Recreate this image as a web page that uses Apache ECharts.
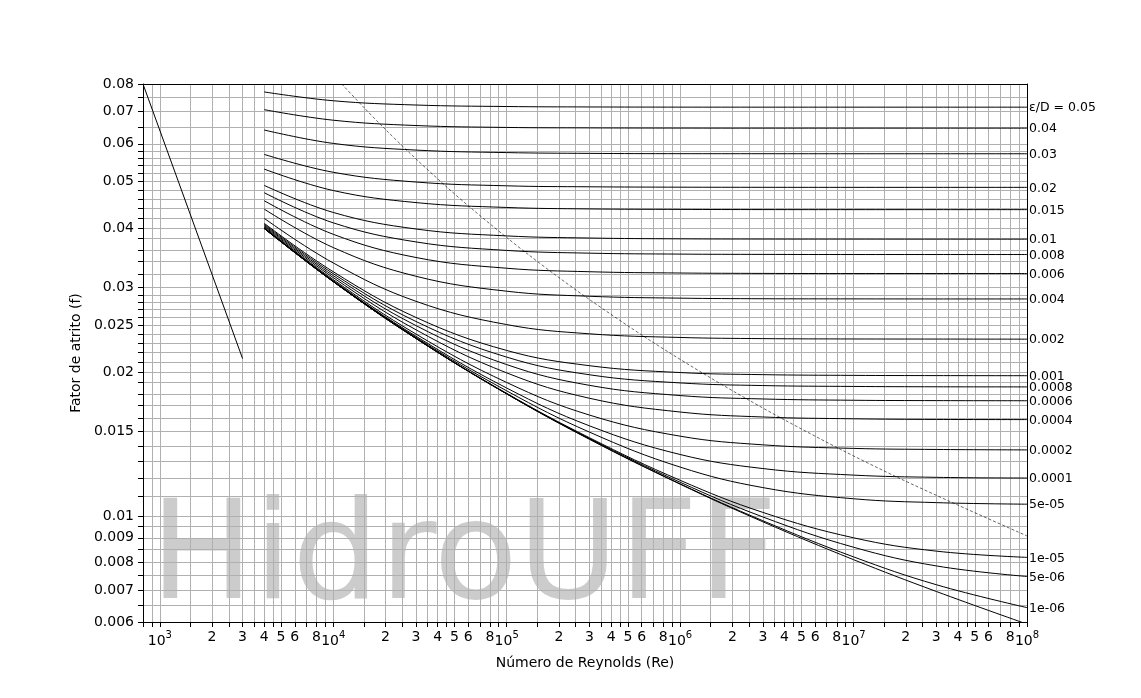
<!DOCTYPE html>
<html>
<head>
<meta charset="utf-8">
<script src="https://cdn.jsdelivr.net/npm/echarts@6/dist/echarts.min.js"></script>
<style>
html,body{margin:0;padding:0;background:#fff;}
#chart{width:1141px;height:698px;}
</style>
</head>
<body>
<div id="chart"></div>
<script>
// Reynolds numbers at which the curves were read
const reynolds = [4000, 10000, 30000, 100000, 300000, 1000000, 3000000, 10000000, 30000000, 100000000];

// friction factor readings for each relative roughness
const f_0_05   = [0.0770, 0.0738, 0.0723, 0.07178, 0.07163, 0.07157, 0.07156, 0.07156, 0.07156, 0.07156];
const f_0_04   = [0.0707, 0.0672, 0.0655, 0.0649, 0.06476, 0.06470, 0.06468, 0.06468, 0.06468, 0.06468];
const f_0_03   = [0.0641, 0.0601, 0.0582, 0.0575, 0.05728, 0.05720, 0.05719, 0.05718, 0.05718, 0.05718];
const f_0_02   = [0.0570, 0.0523, 0.0499, 0.0490, 0.04877, 0.04868, 0.04865, 0.04864, 0.04864, 0.04864];
const f_0_015  = [0.0531, 0.0479, 0.0452, 0.04415, 0.04384, 0.04374, 0.04370, 0.04369, 0.04369, 0.04369];
const f_0_01   = [0.0491, 0.0431, 0.0398, 0.0385, 0.03811, 0.03796, 0.03792, 0.03791, 0.03790, 0.03790];
const f_0_008  = [0.0474, 0.0410, 0.0374, 0.0359, 0.03543, 0.03527, 0.03522, 0.03520, 0.03520, 0.03520];
const f_0_006  = [0.0456, 0.0388, 0.0347, 0.03295, 0.03240, 0.03220, 0.03214, 0.03212, 0.03212, 0.03212];
const f_0_004  = [0.0438, 0.0364, 0.0317, 0.0295, 0.02879, 0.02853, 0.02845, 0.02843, 0.02842, 0.02842];
const f_0_002  = [0.0419, 0.0338, 0.0281, 0.02512, 0.02403, 0.02361, 0.02348, 0.02344, 0.02343, 0.02342];
const f_0_001  = [0.0409, 0.0324, 0.0260, 0.02218, 0.02061, 0.01994, 0.01974, 0.01967, 0.01965, 0.01964];
const f_0_0008 = [0.0407, 0.0321, 0.0255, 0.02148, 0.01973, 0.01897, 0.01873, 0.01865, 0.01862, 0.01861];
const f_0_0006 = [0.0405, 0.0318, 0.0250, 0.02072, 0.01875, 0.01785, 0.01756, 0.01745, 0.01742, 0.01741];
const f_0_0004 = [0.0403, 0.0315, 0.0245, 0.01991, 0.01762, 0.01649, 0.01610, 0.01596, 0.01591, 0.01590];
const f_0_0002 = [0.0401, 0.0312, 0.0240, 0.01901, 0.01625, 0.01468, 0.01408, 0.01384, 0.01377, 0.01374];
const f_0_0001 = [0.0400, 0.0310, 0.02375, 0.01851, 0.01543, 0.01344, 0.01256, 0.01217, 0.01204, 0.01200];
const f_5e_05  = [0.0400, 0.0310, 0.02362, 0.01826, 0.01497, 0.01265, 0.01146, 0.01086, 0.01066, 0.01058];
const f_1e_05  = [0.0399, 0.0309, 0.02352, 0.01804, 0.01457, 0.01187, 0.01017, 0.00900, 0.00844, 0.00819];
const f_5e_06  = [0.0399, 0.0309, 0.0235, 0.0180, 0.01452, 0.01176, 0.00995, 0.00860, 0.00786, 0.00747];
const f_1e_06  = [0.0399, 0.0309, 0.0235, 0.0180, 0.01448, 0.01167, 0.00977, 0.00821, 0.00718, 0.00643];
const f_smooth = [0.0399, 0.0309, 0.0235, 0.0180, 0.01446, 0.01165, 0.00972, 0.00810, 0.00695, 0.00594];

const curveLabels = ['ε/D = 0.05', '0.04', '0.03', '0.02', '0.015', '0.01', '0.008', '0.006', '0.004', '0.002',
  '0.001', '0.0008', '0.0006', '0.0004', '0.0002', '0.0001', '5e-05', '1e-05', '5e-06', '1e-06', ''];
const curveValues = [f_0_05, f_0_04, f_0_03, f_0_02, f_0_015, f_0_01, f_0_008, f_0_006, f_0_004, f_0_002,
  f_0_001, f_0_0008, f_0_0006, f_0_0004, f_0_0002, f_0_0001, f_5e_05, f_1e_05, f_5e_06, f_1e_06, f_smooth];

// laminar flow segment
const laminarRe = [800, 3000];
const laminarF  = [0.08, 0.02133];

// dashed boundary of the fully rough zone
const roughRe = [11194, 14953, 19660, 27880, 45343, 63790, 102733, 133245, 186000, 296608, 653380, 1427200, 2526000, 3965000, 8531000, 18260000, 38890000, 100000000];
const roughF  = [0.08, 0.07156, 0.06468, 0.05718, 0.04864, 0.04369, 0.0379, 0.0352, 0.03212, 0.02842, 0.02342, 0.01964, 0.01741, 0.0159, 0.01374, 0.012, 0.01058, 0.00908];

// axis ticks / labels
const xMantissas = [1, 1.5, 2, 2.5, 3, 3.5, 4, 4.5, 5, 6, 7, 8, 9];
const xLabelMantissas = [1, 2, 3, 4, 5, 6, 8];
const xDecades = [1000, 10000, 100000, 1000000, 10000000];
const xTickValues = [800, 900];
xDecades.forEach(d => xMantissas.forEach(m => xTickValues.push(Math.round(m * d))));
xTickValues.push(100000000);
const xLabelValues = [];
xDecades.forEach(d => xLabelMantissas.forEach(m => xLabelValues.push(Math.round(m * d))));
xLabelValues.push(100000000);

const yTickValues = [0.006, 0.0065, 0.007, 0.0075, 0.008, 0.0085, 0.009, 0.0095, 0.01,
  0.011, 0.012, 0.013, 0.014, 0.015, 0.016, 0.017, 0.018, 0.019, 0.02,
  0.021, 0.022, 0.023, 0.024, 0.025, 0.026, 0.027, 0.028, 0.029, 0.03,
  0.032, 0.034, 0.036, 0.038, 0.04, 0.042, 0.044, 0.046, 0.048, 0.05,
  0.052, 0.054, 0.056, 0.058, 0.06, 0.065, 0.07, 0.075, 0.08];
const yLabelValues = [0.006, 0.007, 0.008, 0.009, 0.01, 0.015, 0.02, 0.025, 0.03, 0.04, 0.05, 0.06, 0.07, 0.08];

const FONT = 'DejaVu Sans';

function fmtX(v) {
  const e = Math.floor(Math.log10(v) + 1e-9);
  const m = Math.round(v / Math.pow(10, e));
  if (m === 1) return '{b|10}{s|' + e + '}';
  return String(m);
}
function fmtY(v) {
  return String(parseFloat(Number(v).toPrecision(4)));
}

const series = [];
curveValues.forEach((arr, i) => {
  series.push({
    type: 'line',
    name: curveLabels[i] || 'smooth',
    data: reynolds.map((re, j) => [re, arr[j]]),
    showSymbol: false,
    symbol: 'none',
    smooth: 0.4,
    lineStyle: { color: '#000', width: 1 },
    itemStyle: { color: '#000' },
    z: 3,
    endLabel: curveLabels[i] ? {
      show: true,
      formatter: p => p.seriesName,
      color: '#000',
      fontSize: 12.5,
      fontFamily: FONT,
      distance: 2,
      offset: [0, 1]
    } : { show: false },
    emphasis: { disabled: true },
    silent: true
  });
});
series.push({
  type: 'line', name: 'laminar',
  data: laminarRe.map((re, j) => [re, laminarF[j]]),
  showSymbol: false, symbol: 'none',
  lineStyle: { color: '#000', width: 1 }, z: 3, silent: true
});
series.push({
  type: 'line', name: 'rough',
  data: roughRe.map((re, j) => [re, roughF[j]]),
  showSymbol: false, symbol: 'none', smooth: 0.3,
  lineStyle: { color: '#000', width: 0.6, type: [3, 2] }, z: 3, silent: true
});

const chart = echarts.init(document.getElementById('chart'), null, { renderer: 'canvas' });
chart.setOption({
  animation: false,
  backgroundColor: '#fff',
  textStyle: { fontFamily: FONT },
  grid: { left: 143, top: 84, width: 884, height: 538, containLabel: false },
  xAxis: [{
    type: 'log', logBase: 10, min: 800, max: 100000000,
    axisLine: { show: true, lineStyle: { color: '#000', width: 1 } },
    axisTick: { show: true, inside: false, length: 5, customValues: xTickValues, lineStyle: { color: '#000', width: 1 } },
    axisLabel: {
      show: true, customValues: xLabelValues, formatter: fmtX, margin: 8,
      color: '#000', fontSize: 14, fontFamily: FONT,
      rich: {
        b: { fontSize: 14, fontFamily: FONT, color: '#000', verticalAlign: 'bottom', padding: [4, 0, 0, 0] },
        s: { fontSize: 10, fontFamily: FONT, color: '#000', verticalAlign: 'top' }
      }
    },
    splitLine: { show: true, showMinLine: false, showMaxLine: false, lineStyle: { color: '#b0b0b0', width: 1 } },
    minorTick: { show: false }, minorSplitLine: { show: false },
    name: 'Número de Reynolds (Re)', nameLocation: 'middle', nameGap: 34,
    nameTextStyle: { color: '#000', fontSize: 14, fontFamily: FONT }
  }, {
    type: 'log', logBase: 10, min: 800, max: 100000000, position: 'top',
    axisLine: { show: true, lineStyle: { color: '#000', width: 1 } },
    axisTick: { show: false }, axisLabel: { show: false }, splitLine: { show: false }
  }],
  yAxis: [{
    type: 'log', logBase: 10, min: 0.006, max: 0.08,
    axisLine: { show: true, lineStyle: { color: '#000', width: 1 } },
    axisTick: { show: true, inside: false, length: 5, customValues: yTickValues, lineStyle: { color: '#000', width: 1 } },
    axisLabel: { show: true, customValues: yLabelValues, formatter: fmtY, margin: 9, color: '#000', fontSize: 14, fontFamily: FONT },
    splitLine: { show: true, showMinLine: false, showMaxLine: false, lineStyle: { color: '#b0b0b0', width: 1 } },
    minorTick: { show: false }, minorSplitLine: { show: false },
    name: 'Fator de atrito (f)', nameLocation: 'middle', nameGap: 45, nameRotate: 90,
    nameTextStyle: { color: '#000', fontSize: 14, fontFamily: FONT }
  }, {
    type: 'log', logBase: 10, min: 0.006, max: 0.08, position: 'right',
    axisLine: { show: true, lineStyle: { color: '#000', width: 1 } },
    axisTick: { show: false }, axisLabel: { show: false }, splitLine: { show: false }
  }],
  graphic: {
    elements: [{
      type: 'text', z: -10, silent: true,
      style: { text: 'HidroUFF', x: 150, y: 562, fill: '#cccccc', fontSize: 138, fontFamily: FONT, verticalAlign: 'middle', align: 'left' }
    }]
  },
  series: series
});
</script>
</body>
</html>
